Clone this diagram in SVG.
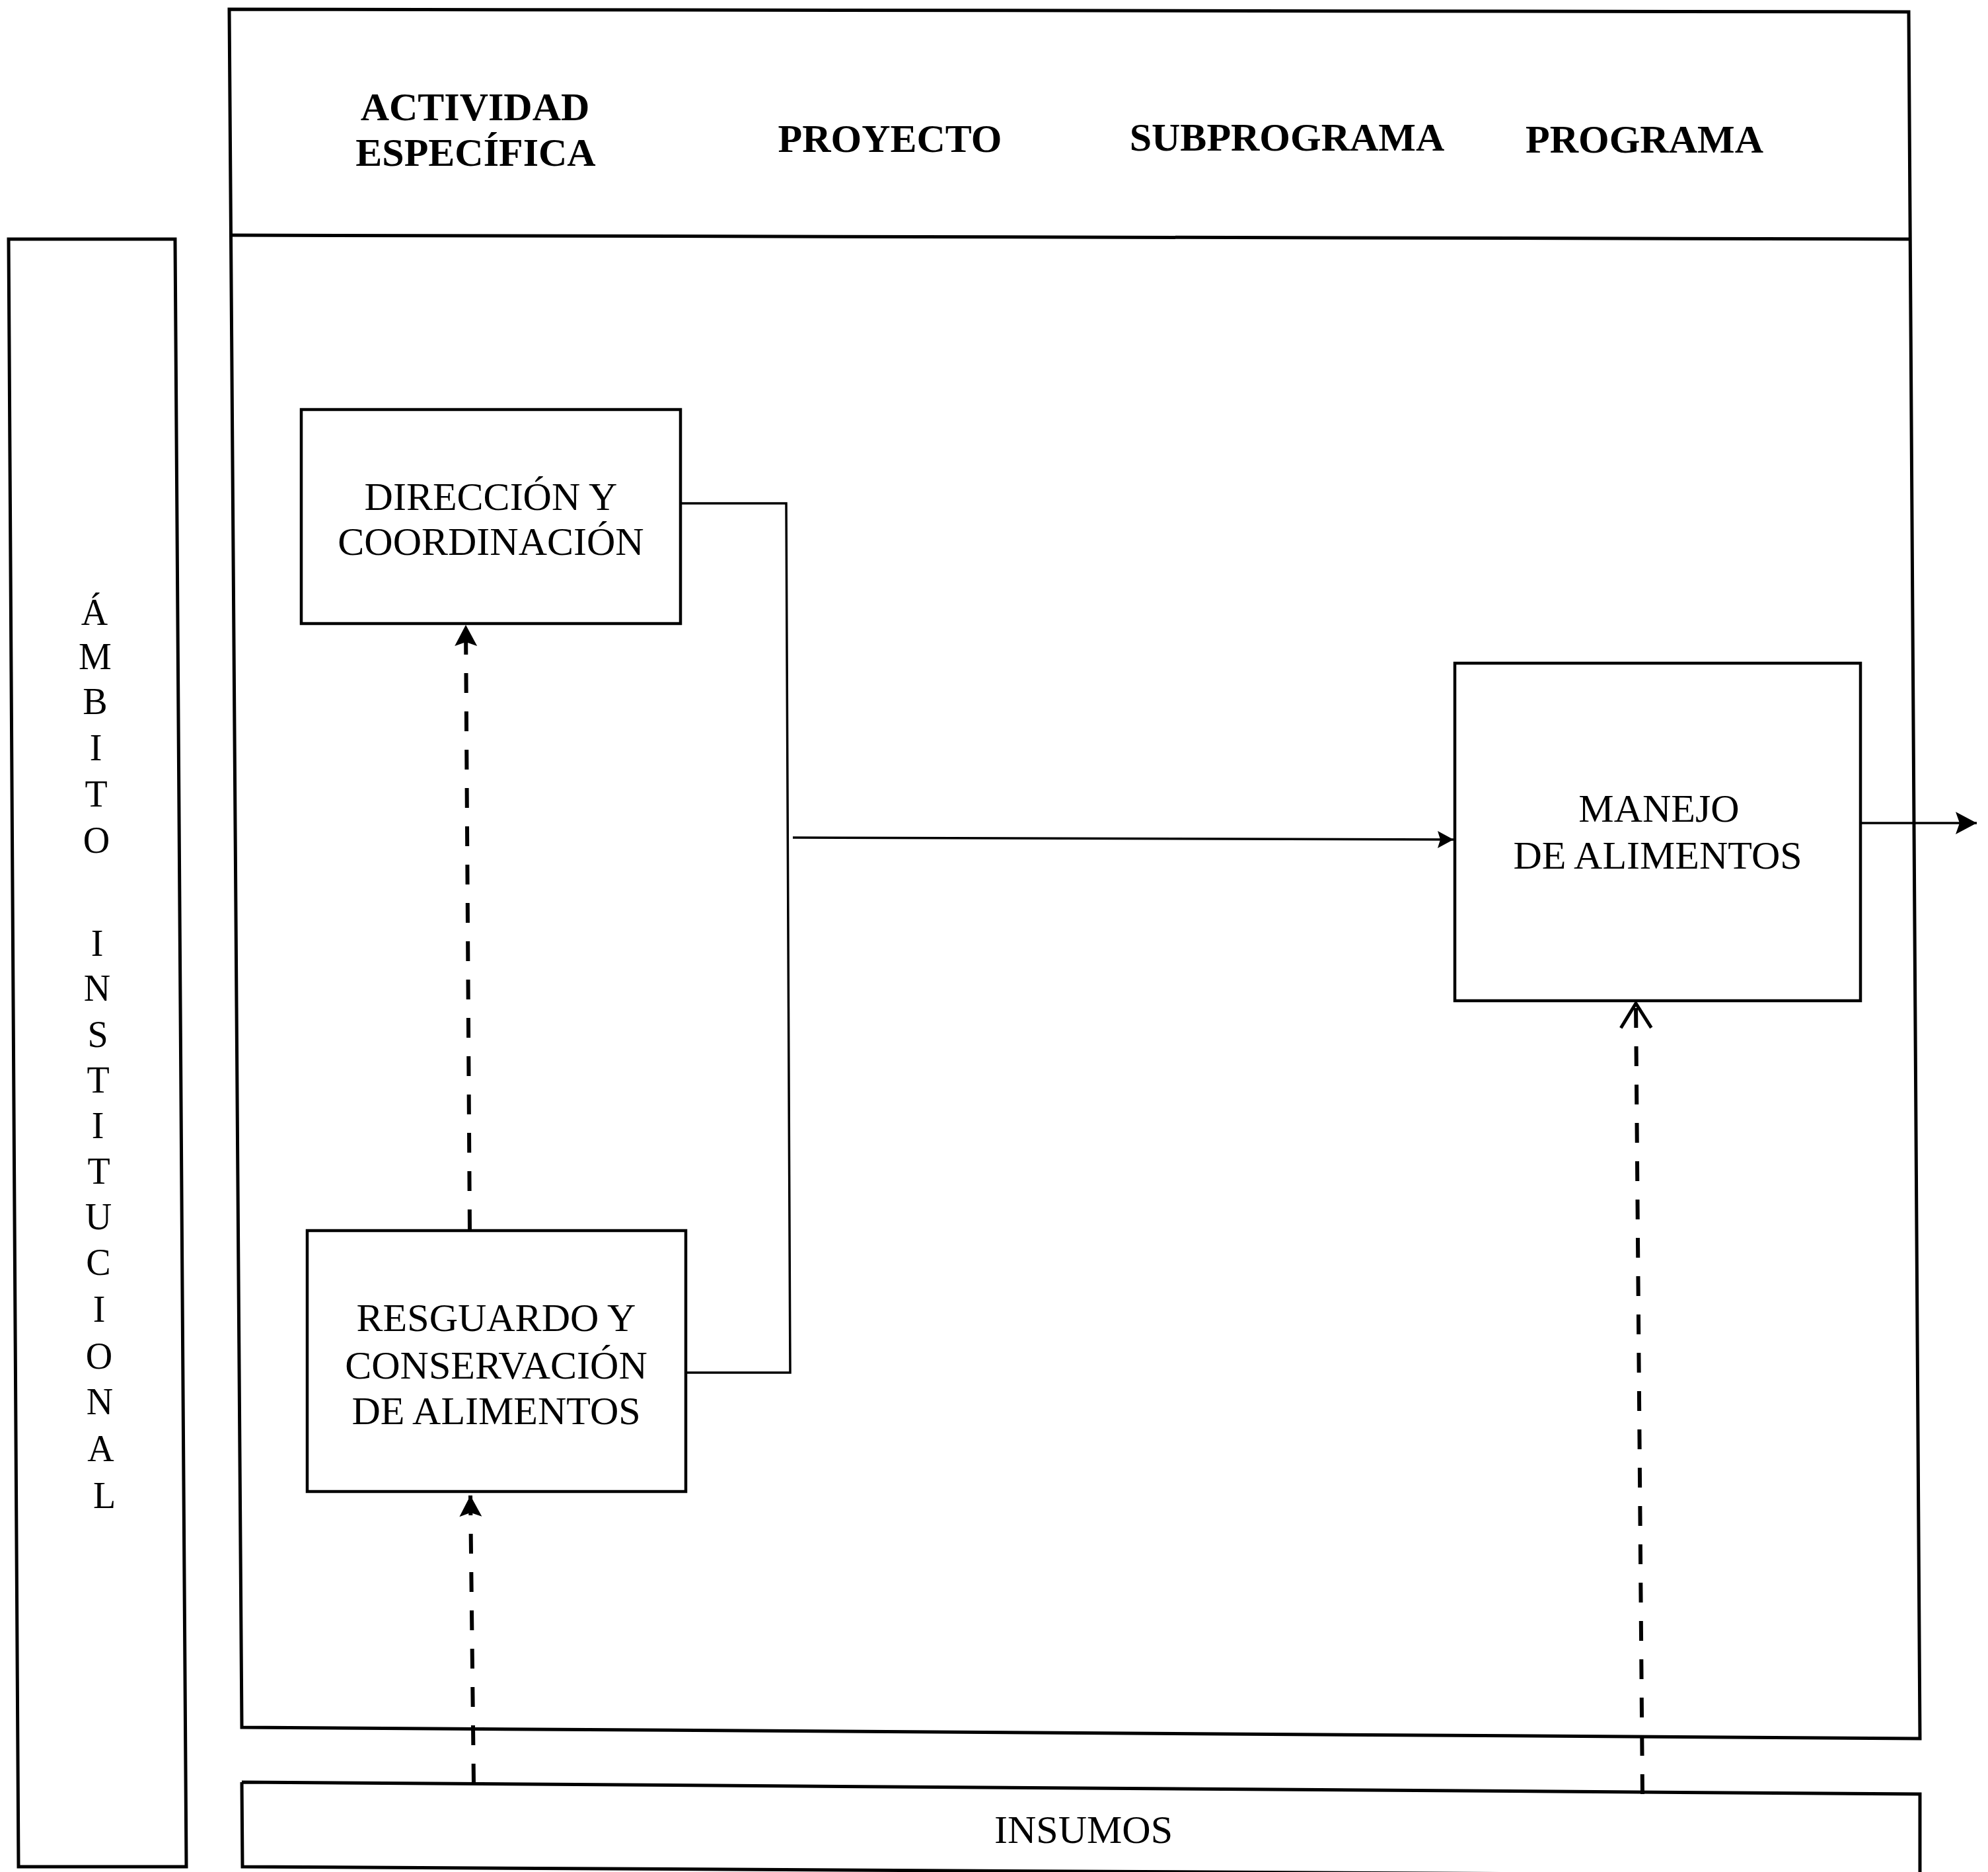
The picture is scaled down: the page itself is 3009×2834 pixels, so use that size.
<svg xmlns="http://www.w3.org/2000/svg" width="3009" height="2834" viewBox="0 0 3009 2834">
<style>
.frame{fill:none;stroke:#000;stroke-width:5}
.box{fill:#fff;stroke:#000;stroke-width:4.5}
.conn{fill:none;stroke:#000;stroke-width:3.5}
.dash{fill:none;stroke:#000;stroke-width:6;stroke-dasharray:30 28}
.hd{font-family:"Liberation Serif","Times New Roman",serif;font-weight:bold;font-size:60px;text-anchor:middle;fill:#000}
.lb{font-family:"Liberation Serif","Times New Roman",serif;font-size:60px;text-anchor:middle;fill:#000}
.vt{font-family:"Liberation Serif","Times New Roman",serif;font-size:56px;text-anchor:middle;fill:#000}
</style>
<defs>
<marker id="tri" markerUnits="userSpaceOnUse" viewBox="0 0 32 34" refX="32" refY="17" markerWidth="32" markerHeight="34" orient="auto" overflow="visible">
<path d="M0,0 L32,17 L0,34 L6,17 z" fill="#000" stroke="none"/>
</marker>
<marker id="triS" markerUnits="userSpaceOnUse" viewBox="0 0 24 26" refX="24" refY="13" markerWidth="24" markerHeight="26" orient="auto" overflow="visible">
<path d="M0,0 L24,13 L0,26 L4,13 z" fill="#000" stroke="none"/>
</marker>
<marker id="chev" markerUnits="userSpaceOnUse" viewBox="0 0 38 48" refX="38" refY="24" markerWidth="38" markerHeight="48" orient="auto" overflow="visible">
<path d="M0,1 L37,24 L0,47" fill="none" stroke="#000" stroke-width="5"/>
</marker>
</defs>
<rect width="3009" height="2834" fill="#fff"/>

<g id="ambito">
<path class="frame" d="M13,362 L265,362 L282,2826 L28,2826 Z"/>
<text class="vt">
<tspan x="150" y="946">Á</tspan>
<tspan x="151" y="1013">M</tspan>
<tspan x="151" y="1081">B</tspan>
<tspan x="152" y="1151">I</tspan>
<tspan x="152" y="1221">T</tspan>
<tspan x="153" y="1291">O</tspan>
<tspan x="154" y="1447">I</tspan>
<tspan x="154" y="1515">N</tspan>
<tspan x="155" y="1585">S</tspan>
<tspan x="155" y="1654">T</tspan>
<tspan x="155" y="1723">I</tspan>
<tspan x="156" y="1792">T</tspan>
<tspan x="156" y="1861">U</tspan>
<tspan x="156" y="1930">C</tspan>
<tspan x="157" y="2001">I</tspan>
<tspan x="157" y="2072">O</tspan>
<tspan x="158" y="2141">N</tspan>
<tspan x="158" y="2212">A</tspan>
<tspan x="158" y="2283">L</tspan>
</text>
</g>

<g id="main-frame">
<path class="frame" d="M347,14 L2889,18 L2906,2632 L366,2615 Z"/>
<path class="frame" d="M349,356 L2890,362"/>
</g>

<g id="headers">
<text class="hd" x="719" y="182">ACTIVIDAD</text>
<text class="hd" x="720" y="251">ESPECÍFICA</text>
<text class="hd" x="1347" y="230">PROYECTO</text>
<text class="hd" x="1948" y="228">SUBPROGRAMA</text>
<text class="hd" x="2489" y="231">PROGRAMA</text>
</g>

<g id="direccion">
<rect class="box" x="456" y="620" width="574" height="324"/>
<text class="lb" x="743" y="772">DIRECCIÓN Y</text>
<text class="lb" x="743" y="840">COORDINACIÓN</text>
</g>

<g id="resguardo">
<rect class="box" x="465" y="1863" width="573" height="395"/>
<text class="lb" x="751" y="2015">RESGUARDO Y</text>
<text class="lb" x="751" y="2087">CONSERVACIÓN</text>
<text class="lb" x="751" y="2156">DE ALIMENTOS</text>
</g>

<g id="manejo">
<rect class="box" x="2202" y="1004" width="614" height="511"/>
<text class="lb" x="2511" y="1244">MANEJO</text>
<text class="lb" x="2509" y="1315">DE ALIMENTOS</text>
</g>

<g id="insumos">
<path class="frame" d="M366,2698 L2906,2716 L2906,2840 M366,2698 L367,2826 L2906,2840"/>
<text class="lb" x="1640" y="2790">INSUMOS</text>
</g>

<g id="connectors">
<polyline class="conn" points="1030,762 1190,762 1196,2078 1038,2078"/>
<line class="conn" x1="1200" y1="1268" x2="2200" y2="1271" marker-end="url(#triS)"/>
<line class="conn" x1="2817" y1="1246" x2="2992" y2="1246" stroke-width="4.5" marker-end="url(#tri)"/>
<line class="dash" x1="711" y1="1861" x2="705" y2="946" marker-end="url(#tri)"/>
<line class="dash" x1="717" y1="2700" x2="712" y2="2264" marker-end="url(#tri)"/>
<line class="dash" x1="2486" y1="2716" x2="2476" y2="1518" marker-end="url(#chev)"/>
</g>
</svg>
